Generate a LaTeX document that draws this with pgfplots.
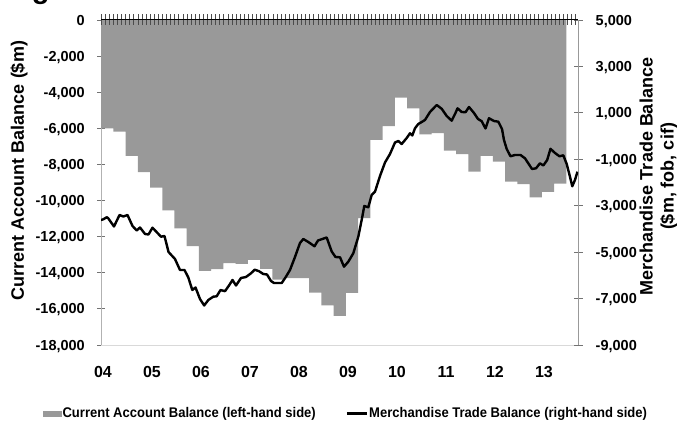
\documentclass[border=0pt]{standalone}
\usepackage{fontspec}
\setmainfont{Liberation Sans}
\newfontfamily\legfont[FakeStretch=0.93]{Liberation Sans Bold}
\usepackage{pgfplots}
\usepackage{pgfplotstable}
\pgfplotsset{compat=1.18}

% Current account balance, quarterly (left-hand side, $m)
\pgfplotstableread{
x y
2004.00 -6000
2004.25 -6180
2004.50 -7520
2004.75 -8420
2005.00 -9280
2005.25 -10540
2005.50 -11540
2005.75 -12520
2006.00 -13890
2006.25 -13800
2006.50 -13460
2006.75 -13510
2007.00 -13280
2007.25 -13780
2007.50 -14380
2007.75 -14300
2008.00 -14300
2008.25 -15100
2008.50 -15810
2008.75 -16390
2009.00 -15120
2009.25 -10980
2009.50 -6640
2009.75 -5880
2010.00 -4300
2010.25 -4890
2010.50 -6340
2010.75 -6260
2011.00 -7240
2011.25 -7430
2011.50 -8400
2011.75 -7530
2012.00 -7840
2012.25 -8950
2012.50 -9090
2012.75 -9830
2013.00 -9520
2013.25 -9060
2013.50 -9060
}\cabars

% Merchandise trade balance (right-hand side, $m)
\pgfplotstableread{
x y
2004.000 -3615
2004.047 -3585
2004.116 -3499
2004.143 -3529
2004.265 -3895
2004.378 -3400
2004.455 -3465
2004.541 -3400
2004.643 -3874
2004.729 -4068
2004.796 -3938
2004.898 -4218
2004.969 -4240
2005.051 -3947
2005.153 -4175
2005.224 -4335
2005.296 -4305
2005.378 -4994
2005.510 -5295
2005.612 -5769
2005.704 -5769
2005.782 -6092
2005.863 -6631
2005.929 -6523
2006.020 -7018
2006.106 -7298
2006.190 -7062
2006.292 -6919
2006.361 -6902
2006.439 -6631
2006.531 -6682
2006.612 -6437
2006.684 -6200
2006.755 -6437
2006.857 -6114
2006.959 -6071
2007.061 -5911
2007.137 -5756
2007.224 -5821
2007.312 -5942
2007.388 -5963
2007.469 -6243
2007.531 -6329
2007.688 -6329
2007.765 -6092
2007.857 -5769
2007.959 -5209
2008.061 -4606
2008.129 -4434
2008.231 -4563
2008.357 -4748
2008.429 -4498
2008.606 -4369
2008.708 -4972
2008.786 -5209
2008.878 -5222
2008.959 -5627
2009.047 -5412
2009.149 -5050
2009.251 -4335
2009.333 -3473
2009.373 -3012
2009.455 -3068
2009.524 -2538
2009.592 -2396
2009.694 -1720
2009.796 -1138
2009.898 -772
2010.000 -277
2010.067 -212
2010.137 -342
2010.239 -83
2010.306 119
2010.353 25
2010.408 335
2010.476 520
2010.545 606
2010.612 692
2010.714 1037
2010.851 1338
2010.953 1175
2011.055 865
2011.157 662
2011.235 994
2011.276 1196
2011.361 1037
2011.439 1028
2011.510 1252
2011.612 994
2011.694 735
2011.769 641
2011.847 326
2011.918 766
2012.020 649
2012.108 619
2012.184 305
2012.224 -169
2012.280 -557
2012.357 -871
2012.449 -815
2012.561 -815
2012.653 -958
2012.720 -1173
2012.796 -1418
2012.878 -1388
2012.959 -1173
2013.027 -1268
2013.106 -1031
2013.173 -548
2013.265 -729
2013.357 -871
2013.435 -828
2013.504 -1203
2013.571 -1750
2013.618 -2164
2013.673 -1892
2013.724 -1535
}\mtb

\pgfplotsset{
  common/.style={
    at={(101pt,77pt)}, anchor=south west,
    width=477pt, height=325pt, scale only axis,
    xmin=2004, xmax=2013.735,
    scaled y ticks=false,
    /pgf/number format/assume math mode=true,
    /pgf/number format/1000 sep={,},
  },
}

\begin{document}
\begin{tikzpicture}
% ---------- bars, left axis ----------
\begin{axis}[
  common,
  ymin=-18000, ymax=0,
  axis x line*=bottom,
  axis y line*=left,
  x axis line style={draw=black!15, line width=0.8pt, -},
  y axis line style={draw=black!30, line width=0.8pt, -},
  xtick={2004.04,2005.04,2006.04,2007.04,2008.04,2009.04,2010.04,2011.04,2012.04,2013.04},
  xticklabels={04,05,06,07,08,09,10,11,12,13},
  x tick style={draw=none},
  xticklabel shift=17pt,
  xticklabel style={font=\bfseries\fontsize{16}{16}\selectfont, anchor=north, inner sep=0pt},
  ytick={-18000,-16000,-14000,-12000,-10000,-8000,-6000,-4000,-2000,0},
  y tick style={draw=black!55, line width=0.8pt},
  tick align=center, major tick length=8pt,
  yticklabel style={font=\bfseries\fontsize{14.5}{14.5}\selectfont, anchor=east, inner sep=0pt, text depth=0pt, xshift=-12pt},
]
\addplot[ybar interval, fill=black!40, draw=none] table {\cabars};
\end{axis}

% ---------- line, right axis ----------
\begin{axis}[
  common,
  ymin=-9000, ymax=5000,
  axis x line=none,
  axis y line*=right,
  y axis line style={draw=black!40, line width=0.8pt, -},
  ytick={-9000,-7000,-5000,-3000,-1000,1000,3000,5000},
  y tick style={draw=black!55, line width=0.8pt},
  tick align=center, major tick length=9pt,
  yticklabel style={font=\bfseries\fontsize{14.5}{14.5}\selectfont, anchor=west, inner sep=0pt, text depth=0pt, xshift=13pt},
  legend columns=2,
  legend cell align=left,
  legend style={at={(axis description cs:-0.1216,-0.2105)}, anchor=west,
    draw=none, fill=none, inner sep=0pt, column sep=1pt,
    font=\legfont\fontsize{14}{14}\selectfont,
    nodes={inner sep=0pt},
    /tikz/every even column/.append style={column sep=30pt}},
]
\addlegendimage{legend image code/.code={\fill[black!40] (0pt,-2.7pt) rectangle (18pt,2.7pt);}}
\addlegendentry{Current Account Balance (left-hand side)}
\addplot[black, line width=2.4pt, line join=round,
  legend image code/.code={\draw[black, line width=2.4pt] (0pt,0pt) -- (20pt,0pt);}] table {\mtb};
\addlegendentry{Merchandise Trade Balance (right-hand side)}
\end{axis}

% ---------- zero line with monthly ticks ----------
\begin{axis}[
  common,
  ymin=-1, ymax=0,
  axis y line=none,
  axis x line*=top,
  x axis line style={draw=black, line width=1pt, -},
  xtick={2004,2004.083333,...,2013.73},
  xticklabels={},
  x tick style={draw=black!70, line width=0.6pt},
  tick align=center, major tick length=11pt,
  ytick=\empty,
]
\end{axis}

% ---------- titles ----------
\node[rotate=90, font=\bfseries\fontsize{18}{18}\selectfont] at (19pt,251.5pt) {Current Account Balance (\$m)};
\node[rotate=90, align=center, font=\bfseries\fontsize{18}{21}\selectfont] at (658.5pt,245.5pt) {Merchandise Trade Balance\\(\$m, fob, cif)};
\node[anchor=base west, inner sep=0pt, font=\bfseries\fontsize{29}{29}\selectfont] at (6pt,423pt) {Figure};

\pgfresetboundingbox
\path[use as bounding box] (0pt,0pt) rectangle (677pt,422pt);
\end{tikzpicture}
\end{document}
